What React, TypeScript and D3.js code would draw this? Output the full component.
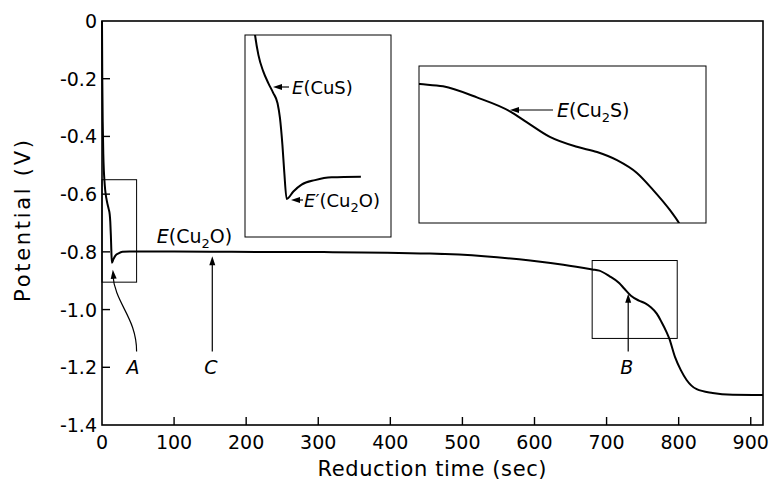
import React, { useEffect, useRef } from 'react'
import * as d3 from 'd3'

// reduction time (sec) and potential (V)
const time = [0, 0.4, 1.0, 1.8, 2.6, 3.3, 4.4, 6.0, 7.7, 9.3, 10.7, 11.5, 12.3, 12.9, 13.7, 15.9, 18.6, 23, 28.5, 38.1, 60, 100, 180, 320, 455, 530, 594, 640, 680.4, 689.9, 703.8, 717.4, 724.4, 733.8, 744.9, 753.2, 761.4, 769.6, 776.2, 783.2, 786.9, 795, 803, 811, 825, 847, 875, 917]
const potential = [0, -0.2, -0.35, -0.46, -0.52, -0.55, -0.585, -0.614, -0.635, -0.652, -0.67, -0.696, -0.743, -0.79, -0.838, -0.825, -0.813, -0.805, -0.8, -0.799, -0.799, -0.799, -0.8, -0.801, -0.806, -0.815, -0.83, -0.845, -0.861, -0.865, -0.884, -0.908, -0.927, -0.952, -0.969, -0.978, -0.992, -1.014, -1.043, -1.078, -1.1, -1.165, -1.21, -1.244, -1.276, -1.289, -1.295, -1.296]

const xTicks = [0, 100, 200, 300, 400, 500, 600, 700, 800, 900]
const yTicks = [0, -0.2, -0.4, -0.6, -0.8, -1.0, -1.2, -1.4]

// the two boxed regions that are blown up in the insets
const boxATime = [0, 48]
const boxAPot = [-0.905, -0.55]
const boxBTime = [680, 798]
const boxBPot = [-1.1, -0.83]
const insetAEnd = 38.1 // inset A trace stops here

const font = '"DejaVu Sans", sans-serif'

export default function App() {
  const ref = useRef<SVGSVGElement>(null)

  useEffect(() => {
    const svg = d3.select(ref.current)
    svg.selectAll('*').remove()

    const left = 102, right = 763, top = 21, bottom = 425

    const x = d3.scaleLinear().domain([0, 917]).range([left, right])
    const y = d3.scaleLinear().domain([-1.4, 0]).range([bottom, top])

    // frame
    svg.append('rect')
      .attr('x', left).attr('y', top)
      .attr('width', right - left).attr('height', bottom - top)
      .attr('fill', 'none').attr('stroke', '#000').attr('stroke-width', 1.6)

    // inward ticks
    svg.selectAll('.xt')
      .data(xTicks.filter(d => d > 0))
      .enter().append('line')
      .attr('x1', d => x(d)).attr('x2', d => x(d))
      .attr('y1', bottom).attr('y2', bottom - 8)
      .attr('stroke', '#000').attr('stroke-width', 1.4)
    svg.selectAll('.yt')
      .data(yTicks.filter(d => d < 0 && d > -1.4))
      .enter().append('line')
      .attr('x1', left).attr('x2', left + 8)
      .attr('y1', d => y(d)).attr('y2', d => y(d))
      .attr('stroke', '#000').attr('stroke-width', 1.4)

    svg.selectAll('.xl')
      .data(xTicks)
      .enter().append('text')
      .attr('x', d => x(d)).attr('y', 449)
      .attr('text-anchor', 'middle')
      .style('font-family', font).style('font-size', '19px')
      .text(d => d)
    svg.selectAll('.yl')
      .data(yTicks)
      .enter().append('text')
      .attr('x', 97).attr('y', d => y(d) + 7)
      .attr('text-anchor', 'end')
      .style('font-family', font).style('font-size', '19px')
      .text(d => (d === 0 ? '0' : d.toFixed(1)))

    svg.append('text')
      .attr('x', 432).attr('y', 476)
      .attr('text-anchor', 'middle')
      .attr('textLength', 229).attr('lengthAdjust', 'spacing')
      .style('font-family', font).style('font-size', '21px')
      .text('Reduction time (sec)')
    svg.append('text')
      .attr('transform', 'translate(30,221) rotate(-90)')
      .attr('text-anchor', 'middle')
      .attr('textLength', 162).attr('lengthAdjust', 'spacing')
      .style('font-family', font).style('font-size', '21px')
      .text('Potential (V)')

    const idx = d3.range(time.length)
    const line = d3.line<number>()
      .x(i => x(time[i]))
      .y(i => y(potential[i]))
      .curve(d3.curveMonotoneX)

    svg.append('path')
      .attr('d', line(idx))
      .attr('fill', 'none').attr('stroke', '#000').attr('stroke-width', 2)

    // boxed regions on the main trace
    ;[[boxATime, boxAPot], [boxBTime, boxBPot]].forEach(([t, v]) => {
      svg.append('rect')
        .attr('x', x(t[0])).attr('y', y(v[1]))
        .attr('width', x(t[1]) - x(t[0])).attr('height', y(v[0]) - y(v[1]))
        .attr('fill', 'none').attr('stroke', '#000').attr('stroke-width', 1)
    })

    const arrowHead = (tx: number, ty: number, ang: number) => {
      // ang = direction the arrow points (radians)
      const len = 9, hw = 3
      const bx = tx - len * Math.cos(ang), by = ty - len * Math.sin(ang)
      const px = -Math.sin(ang) * hw, py = Math.cos(ang) * hw
      svg.append('path')
        .attr('d', `M${tx},${ty}L${bx + px},${by + py}L${bx - px},${by - py}Z`)
        .attr('fill', '#000')
    }

    const label = (sx: number, sy: number, prime: boolean, inner: string, sub: string | null, tail: string, size = 19) => {
      const t = svg.append('text')
        .attr('x', sx).attr('y', sy)
        .style('font-family', font).style('font-size', size + 'px')
      t.append('tspan').style('font-style', 'italic').text('E')
      t.append('tspan').text((prime ? '\u2032' : '') + '(' + inner)
      if (sub) {
        t.append('tspan').attr('dy', 5).style('font-size', Math.round(size * 0.7) + 'px').text(sub)
        t.append('tspan').attr('dy', -5).text(tail + ')')
      } else {
        t.append('tspan').text(tail + ')')
      }
    }

    // main annotations
    label(x(76), y(-0.77), false, 'Cu', '2', 'O')

    const cx = x(153)
    svg.append('line').attr('x1', cx).attr('x2', cx)
      .attr('y1', y(-1.145)).attr('y2', y(-0.815) + 4)
      .attr('stroke', '#000').attr('stroke-width', 1.2)
    arrowHead(cx, y(-0.815), -Math.PI / 2)

    const bxp = x(730)
    svg.append('line').attr('x1', bxp).attr('x2', bxp)
      .attr('y1', y(-1.145)).attr('y2', y(-0.945) + 4)
      .attr('stroke', '#000').attr('stroke-width', 1.2)
    arrowHead(bxp, y(-0.945), -Math.PI / 2)

    const ax0 = x(48), ay0 = y(-1.145), ax1 = x(15), ay1 = y(-0.862)
    svg.append('path')
      .attr('d', `M${ax0},${ay0}C${ax0},${ay0 - 34} ${ax1 + 2},${ay1 + 34} ${ax1},${ay1 + 5}`)
      .attr('fill', 'none').attr('stroke', '#000').attr('stroke-width', 1.2)
    arrowHead(ax1, ay1, -Math.PI / 2 - 0.1)

    ;[['A', x(43)], ['C', x(151)], ['B', x(728)]].forEach(([s, px]) => {
      svg.append('text')
        .attr('x', px as number).attr('y', y(-1.2) + 7)
        .attr('text-anchor', 'middle')
        .style('font-family', font).style('font-size', '19px').style('font-style', 'italic')
        .text(s as string)
    })

    // insets
    const insets = [
      { t: boxATime, v: boxAPot, x0: 245, x1: 391, y0: 35, y1: 237, end: insetAEnd, id: 'clipA' },
      { t: boxBTime, v: boxBPot, x0: 419, x1: 706, y0: 66, y1: 223, end: 917, id: 'clipB' },
    ]
    const defs = svg.append('defs')
    insets.forEach(b => {
      const xi = d3.scaleLinear().domain(b.t).range([b.x0, b.x1])
      const yi = d3.scaleLinear().domain(b.v).range([b.y1, b.y0])
      defs.append('clipPath').attr('id', b.id)
        .append('rect').attr('x', b.x0).attr('y', b.y0)
        .attr('width', b.x1 - b.x0).attr('height', b.y1 - b.y0)
      svg.append('rect')
        .attr('x', b.x0).attr('y', b.y0)
        .attr('width', b.x1 - b.x0).attr('height', b.y1 - b.y0)
        .attr('fill', 'none').attr('stroke', '#000').attr('stroke-width', 1)
      const li = d3.line<number>()
        .x(i => xi(time[i]))
        .y(i => yi(potential[i]))
        .curve(d3.curveMonotoneX)
      svg.append('path')
        .attr('clip-path', `url(#${b.id})`)
        .attr('d', li(idx.filter(i => time[i] <= b.end)))
        .attr('fill', 'none').attr('stroke', '#000').attr('stroke-width', 2)
    })

    // inset labels
    const flat = (x0: number, x1: number, yy: number) => {
      svg.append('line').attr('x1', x0 + 4).attr('x2', x1)
        .attr('y1', yy).attr('y2', yy)
        .attr('stroke', '#000').attr('stroke-width', 1.2)
      arrowHead(x0, yy, Math.PI)
    }
    flat(273, 289, 87)
    label(292, 94, false, 'CuS', null, '', 18)
    flat(291, 303, 200)
    label(304, 207, true, 'Cu', '2', 'O', 18)
    flat(510, 553, 110)
    label(557, 117, false, 'Cu', '2', 'S')
  }, [])

  return (
    <svg ref={ref} width={774} height={493} style={{ position: 'absolute', left: 0, top: 0, background: '#fff' }} />
  )
}
